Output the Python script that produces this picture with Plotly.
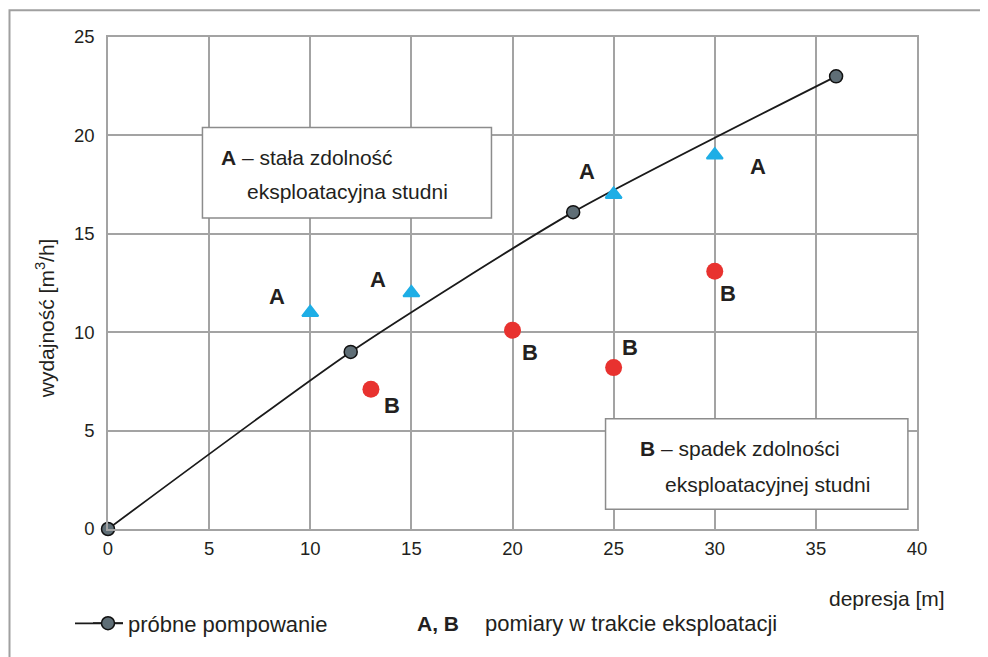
import plotly.graph_objects as go

# dane z wykresu
test_x = [0, 12, 23, 36]          # próbne pompowanie: depresja [m]
test_y = [0, 9, 16.1, 23]         # wydajność [m3/h]

a_x = [10, 15, 25, 30]            # A - stała zdolność
a_y = [11, 12, 17, 19]

b_x = [13, 20, 25, 30]            # B - spadek zdolności
b_y = [7.1, 10.1, 8.2, 13.1]

x_ticks = [0, 5, 10, 15, 20, 25, 30, 35, 40]
y_ticks = [0, 5, 10, 15, 20, 25]

# przesunięcia etykiet A/B względem punktów (px)
a_shift = [(-33, 16), (-33, 13), (-27, 23), (43, -11)]
b_shift = [(21, -16), (17, -22), (16, 20), (13, -22)]

FONT = "Liberation Sans, Arial, sans-serif"
TXT = "#231f20"
GRID = "#a3a3a3"


def px_x(p):
    # piksel ekranu -> współrzędna paper (obszar wykresu 108..917)
    return (p - 108) / 809


def px_y(p):
    # piksel ekranu -> współrzędna paper (obszar wykresu 37..532)
    return (532 - p) / 495


fig = go.Figure()

fig.add_trace(go.Scatter(
    x=test_x, y=test_y, mode="lines+markers", name="próbne pompowanie",
    line=dict(color="#1a1a1a", width=1.8, shape="spline", smoothing=0.6),
    marker=dict(size=13, color="#5f6e76", line=dict(color="#111111", width=1.5)),
    cliponaxis=False,
))
fig.add_trace(go.Scatter(
    x=a_x, y=a_y, mode="markers", showlegend=False,
    marker=dict(symbol="triangle-up", size=14, color="#1eaee6",
                line=dict(color="#1eaee6", width=2)),
))
fig.add_trace(go.Scatter(
    x=b_x, y=b_y, mode="markers", showlegend=False,
    marker=dict(size=17, color="#e8322f"),
))

# etykiety A i B przy punktach
for x, y, (dx, dy) in zip(a_x, a_y, a_shift):
    fig.add_annotation(x=x, y=y, text="<b>A</b>", showarrow=False,
                       xshift=dx, yshift=dy, font=dict(size=22, color=TXT))
for x, y, (dx, dy) in zip(b_x, b_y, b_shift):
    fig.add_annotation(x=x, y=y, text="<b>B</b>", showarrow=False,
                       xshift=dx, yshift=dy, font=dict(size=22, color=TXT))

# ramki z opisami
fig.add_shape(type="rect", x0=4.67, x1=18.96, y0=15.8, y1=20.4,
              line=dict(color="#8c8c8c", width=1.5), fillcolor="white", layer="above")
fig.add_shape(type="rect", x0=24.6, x1=39.55, y0=1.0, y1=5.6,
              line=dict(color="#8c8c8c", width=1.5), fillcolor="white", layer="above")

box_font = dict(size=21, color=TXT)
fig.add_annotation(x=5.51, y=18.89, text="<b>A</b> – stała zdolność", xanchor="left",
                   yanchor="middle", showarrow=False, font=box_font)
fig.add_annotation(x=6.75, y=17.17, text="eksploatacyjna studni", xanchor="left",
                   yanchor="middle", showarrow=False, font=box_font)
fig.add_annotation(x=26.2, y=4.09, text="<b>B</b> – spadek zdolności", xanchor="left",
                   yanchor="middle", showarrow=False, font=box_font)
fig.add_annotation(x=27.44, y=2.27, text="eksploatacyjnej studni", xanchor="left",
                   yanchor="middle", showarrow=False, font=box_font)

# tytuły osi
fig.add_annotation(xref="paper", yref="paper", x=px_x(45), y=px_y(320), textangle=-90,
                   xanchor="center", yanchor="middle",
                   text="wydajność [m<sup>3</sup>/h]", showarrow=False,
                   font=dict(size=21, color=TXT))
fig.add_annotation(xref="paper", yref="paper", x=px_x(947), y=px_y(602),
                   xanchor="right", yanchor="middle",
                   text="depresja [m]", showarrow=False, font=dict(size=21, color=TXT))

# legenda dla pomiarów
fig.add_annotation(xref="paper", yref="paper", x=px_x(415), y=px_y(627),
                   xanchor="left", yanchor="middle",
                   text="<b>A, B</b>", showarrow=False, font=dict(size=21, color=TXT))
fig.add_annotation(xref="paper", yref="paper", x=px_x(483), y=px_y(627),
                   xanchor="left", yanchor="middle",
                   text="pomiary w trakcie eksploatacji", showarrow=False,
                   font=dict(size=22, color=TXT))

# dłuższa linia symbolu legendy
fig.add_shape(type="line", xref="paper", yref="paper",
              x0=px_x(75), x1=px_x(123), y0=px_y(627), y1=px_y(627),
              line=dict(color="#1a1a1a", width=1.8))

# zewnętrzna ramka
fig.add_shape(type="path", xref="paper", yref="paper",
              path=f"M {px_x(9.5)},{px_y(700)} L {px_x(9.5)},{px_y(10)} L {px_x(1000)},{px_y(10)}",
              line=dict(color="#a0a0a0", width=2))

fig.update_xaxes(range=[0, 40], tickvals=x_ticks, showgrid=True, gridcolor=GRID,
                 gridwidth=1.5, zeroline=False, showline=True, linecolor=GRID,
                 linewidth=1.5, mirror=True, ticks="", ticklabelstandoff=2,
                 tickfont=dict(size=18.5, color=TXT))
fig.update_yaxes(range=[0, 25], tickvals=y_ticks, showgrid=True, gridcolor=GRID,
                 gridwidth=1.5, zeroline=False, showline=True, linecolor=GRID,
                 linewidth=1.5, mirror=True, ticks="", ticklabelstandoff=8,
                 tickfont=dict(size=18.5, color=TXT))

# strona ma margines 8 px, więc figura jest o 8 px mniejsza
fig.update_layout(
    width=980, height=649,
    margin=dict(l=100, r=71, t=29, b=125),
    paper_bgcolor="white", plot_bgcolor="white",
    font=dict(family=FONT, color=TXT),
    showlegend=True,
    legend=dict(x=px_x(88), y=px_y(627), xanchor="left", yanchor="middle",
                font=dict(size=22, color=TXT), bgcolor="rgba(0,0,0,0)"),
)

fig.write_html("out.html")
